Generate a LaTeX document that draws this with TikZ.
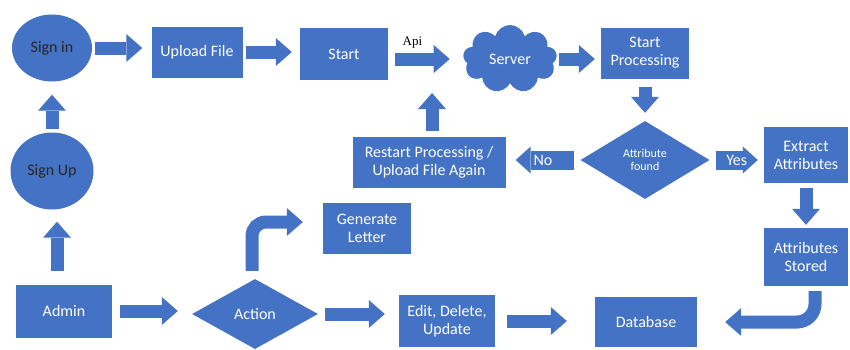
\documentclass[tikz,border=0pt]{standalone}
\usepackage{fontspec}
\setmainfont{Carlito}
\newfontfamily\apifont{Liberation Serif}
\usetikzlibrary{arrows.meta, positioning, shapes.geometric, shapes.symbols}
\definecolor{msblue}{HTML}{4472C4}

\begin{document}
\begin{tikzpicture}[
  x=1pt, y=-1pt,
  box/.style={rectangle, fill=msblue, text=white, align=center, inner sep=2pt, minimum width=88pt, minimum height=51pt, font=\fontsize{16}{18}\selectfont},
  oval/.style={ellipse, fill=msblue, text=black!85, font=\fontsize{16}{18}\selectfont},
  dec/.style={diamond, aspect=1.65, fill=msblue, text=white, align=center, inner sep=0pt},
  blk/.style={draw=msblue, line width=13pt, -{Triangle[length=16pt, width=28pt, line width=0pt]}},
  tag/.style={blk, line width=19pt, -{Triangle[length=15pt, width=27pt, line width=0pt]}},
  lbl/.style={text=white, font=\fontsize{16}{18}\selectfont}
]
  \useasboundingbox (0,0) rectangle (850,349);

  \node[oval, minimum width=80pt, minimum height=67pt] (signin) at (52,48) {Sign in};
  \node[box, minimum width=91pt] (upload) at (197,52) {Upload File};
  \node[box, minimum height=52pt] (start) at (344,54) {Start};
  \node[cloud, cloud puffs=9, cloud ignores aspect, fill=msblue, text=white, minimum width=94pt, minimum height=68pt, inner sep=1pt, font=\fontsize{16}{18}\selectfont] (server) at (510,59) {Server};
  \node[box] (proc) at (645,53) {Start\\Processing};
  \node[dec, minimum width=129pt, minimum height=78pt, font=\fontsize{12}{13.5}\selectfont] (found) at (645,160) {Attribute\\found};
  \node[box, minimum width=84pt, minimum height=56pt] (extract) at (806,155) {Extract\\Attributes};
  \node[box, minimum width=84pt, minimum height=58pt] (stored) at (806,257) {Attributes\\Stored};
  \node[box, minimum width=102pt, minimum height=50pt] (db) at (646,322) {Database};
  \node[box, minimum width=153pt] (restart) at (429,162) {Restart Processing /\\Upload File Again};
  \node[oval, minimum width=83pt, minimum height=77pt] (signup) at (52,171) {Sign Up};
  \node[box, minimum width=96pt, minimum height=53pt] (admin) at (64,311) {Admin};
  \node[dec, minimum width=126pt, minimum height=70pt, font=\fontsize{16}{18}\selectfont] (action) at (255,314) {Action};
  \node[box] (letter) at (367,228) {Generate\\Letter};
  \node[box, minimum width=96pt, minimum height=52pt] (edit) at (447,321) {Edit, Delete,\\Update};
  \coordinate (retry) at (432,93);

  \draw[blk, shorten <=3pt, shorten >=9pt] (signin.east) -- (signin.east -| upload.west);
  \draw[blk, shorten <=3pt, shorten >=8pt] (upload.east) -- (upload.east -| start.west);
  \draw[blk, shorten <=7pt, shorten >=14pt] (start.east |- server.west) -- node[pos=0.32, above=1pt, text=black, font=\apifont\fontsize{13}{14}\selectfont] (api) {Api} (server.west);
  \draw[blk, shorten <=3pt, shorten >=6pt] (server.east) -- (server.east -| proc.west);
  \draw[blk, shorten <=8pt, shorten >=8pt] (proc) -- (found);
  \draw[tag, shorten <=6pt, shorten >=6pt] (found.east) -- node[lbl] {Yes} (found.east -| extract.west);
  \draw[tag, shorten <=6pt, shorten >=10pt] (found.west) -- node[lbl] {No} (found.west -| restart.east);
  \draw[blk, shorten <=5pt] (restart.north -| retry) -- (retry);
  \draw[blk, shorten <=5pt, shorten >=3pt] (extract) -- (stored);
  \draw[blk, rounded corners=18pt, shorten <=5pt, shorten >=28pt] ([xshift=9pt]stored.south) |- (db.east);
  \draw[blk, shorten <=3pt, shorten >=13pt] (signup) -- (signin);
  \draw[blk, shorten <=13pt, shorten >=12pt] ([xshift=-7pt]admin.north) -- ([xshift=-7pt]admin.north |- signup.south);
  \draw[blk, shorten <=8pt, shorten >=14pt] (admin.east) -- (admin.east -| action.west);
  \draw[blk, rounded corners=14pt, shorten <=8pt, shorten >=20pt] ([xshift=-3pt]action.north) |- ([yshift=6pt]letter.west);
  \draw[blk, shorten <=7pt, shorten >=14pt] (action.east) -- (action.east -| edit.west);
  \draw[blk, shorten <=12pt, shorten >=28pt] (edit.east) -- (edit.east -| db.west);
\end{tikzpicture}
\end{document}
